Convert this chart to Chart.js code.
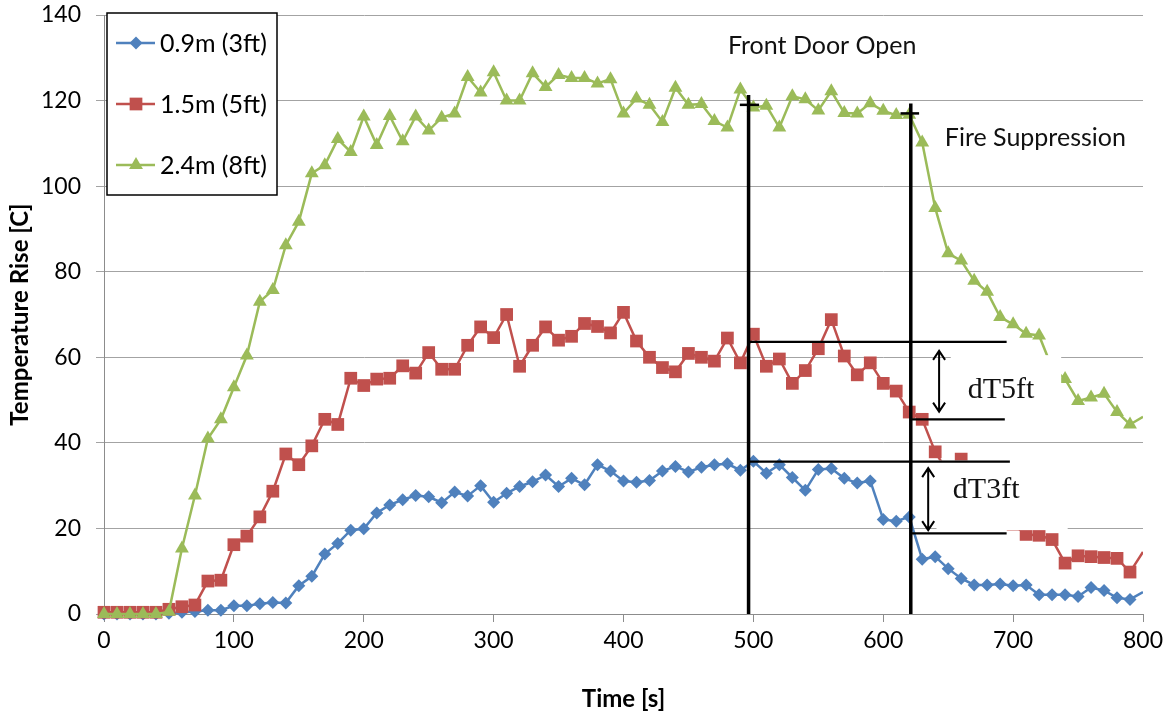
<!DOCTYPE html>
<html>
<head>
<meta charset="utf-8">
<script src="https://cdn.jsdelivr.net/npm/chart.js@4.4.0/dist/chart.umd.min.js"></script>
<style>
  html, body { margin: 0; padding: 0; background: #fff; }
</style>
</head>
<body>
<canvas id="tempChart" width="1166" height="715"></canvas>
<script>
// time stamps [s]
const timeSec = [0, 10, 20, 30, 40, 50, 60, 70, 80, 90, 100, 110, 120, 130, 140, 150, 160, 170, 180, 190,
  200, 210, 220, 230, 240, 250, 260, 270, 280, 290, 300, 310, 320, 330, 340, 350, 360, 370, 380, 390,
  400, 410, 420, 430, 440, 450, 460, 470, 480, 490, 500, 510, 520, 530, 540, 550, 560, 570, 580, 590,
  600, 610, 620, 630, 640, 650, 660, 670, 680, 690, 700, 710, 720, 730, 740, 750, 760, 770, 780, 790, 800];

// temperature rise [C] at each height
const rise3ft = [0, 0, 0, 0, 0, 0.2, 0.4, 0.6, 0.9, 0.9, 1.9, 1.9, 2.4, 2.7, 2.6, 6.6, 8.8, 14, 16.5, 19.6,
  19.9, 23.6, 25.5, 26.7, 27.7, 27.4, 26, 28.5, 27.6, 30, 26.1, 28.2, 29.8, 30.9, 32.5, 29.8, 31.7, 30.2, 34.9, 33.4,
  31.1, 30.8, 31.2, 33.4, 34.5, 33.2, 34.3, 34.9, 35.1, 33.6, 35.7, 32.9, 34.9, 31.9, 28.9, 33.8, 34, 31.7, 30.6, 31.1,
  22.1, 21.7, 22.7, 12.8, 13.4, 10.6, 8.3, 6.8, 6.8, 7, 6.6, 6.8, 4.5, 4.5, 4.5, 4.1, 6.2, 5.5, 3.8, 3.4, 5.1];

const rise5ft = [0.4, 0.4, 0.4, 0.4, 0.4, 1.1, 1.7, 2.1, 7.7, 7.9, 16.2, 18.2, 22.7, 28.7, 37.4, 34.9, 39.3, 45.5, 44.3, 55.1,
  53.4, 54.9, 55.1, 58, 56.3, 61.1, 57.2, 57.2, 62.8, 67.1, 64.6, 70, 57.9, 62.8, 67.1, 64, 64.9, 67.9, 67.2, 65.7,
  70.5, 63.8, 60, 57.6, 56.6, 60.9, 60, 59.1, 64.5, 58.7, 65.4, 57.9, 59.6, 53.9, 56.9, 62, 68.8, 60.3, 55.9, 58.7,
  53.9, 52.1, 47.2, 45.5, 37.9, 33, 36.2, 30, 26, 23, 21, 18.6, 18.4, 17.4, 11.9, 13.6, 13.4, 13.2, 13, 9.8, 14.5];

const rise8ft = [0, 0, 0, 0, 0, 0.5, 15.3, 27.7, 41, 45.5, 53, 60.4, 73, 75.7, 86.2, 91.7, 103, 104.9, 111, 108,
  116.3, 109.6, 116.4, 110.5, 116.3, 113, 116, 117, 125.5, 121.9, 126.6, 120, 120, 126.4, 123.2, 126, 125.3, 125.3, 124, 125,
  117, 120.5, 119, 115, 123, 119, 119.2, 115.2, 113.7, 122.6, 118.4, 118.8, 113.7, 121, 120.3, 117.7, 122.2, 117.1, 117, 119.4,
  117.6, 116.6, 116.7, 110.2, 94.9, 84.3, 82.6, 77.9, 75.3, 69.4, 67.7, 65.5, 65.1, 57.5, 54.9, 49.8, 50.6, 51.5, 47.2, 44.3, 46.1];

const seriesLabels = ["0.9m (3ft)", "1.5m (5ft)", "2.4m (8ft)"];
const xTickStep = 100;
const yTickStep = 20;

const FONT = "Lato";
const lastIdx = timeSec.length - 1;

function toPoints(values) {
  return timeSec.map((t, i) => ({ x: t, y: values[i] }));
}

function makeSeries(label, values, color, style, radius, order) {
  return {
    label: label,
    data: toPoints(values),
    borderColor: color,
    backgroundColor: color,
    pointBackgroundColor: color,
    pointBorderColor: color,
    pointBorderWidth: 0,
    borderWidth: 2.5,
    pointStyle: style,
    pointRadius: c => (c.dataIndex === lastIdx ? 0 : radius),
    pointHoverRadius: radius,
    legendRadius: radius,
    tension: 0,
    order: order,
    clip: { left: 20, top: 20, right: 0, bottom: 20 }
  };
}

// =====================
// Annotations (data space)
// =====================
const markLines = [
  { x1: 496.3, y1: 0, x2: 496.3, y2: 121.3, w: 3.5 },
  { x1: 489.6, y1: 119, x2: 504.4, y2: 119, w: 2.5 },
  { x1: 621.2, y1: 0, x2: 621.2, y2: 119.3, w: 3.5 },
  { x1: 613.3, y1: 117, x2: 627.6, y2: 117, w: 2.5 },
  { x1: 496.3, y1: 63.6, x2: 695, y2: 63.6, w: 2.2 },
  { x1: 621.2, y1: 45.5, x2: 693.6, y2: 45.5, w: 2.2 },
  { x1: 496.3, y1: 35.6, x2: 697.5, y2: 35.6, w: 2.2 },
  { x1: 621.2, y1: 18.85, x2: 695, y2: 18.85, w: 2.2 }
];
const whiteBoxes = [
  { x1: 652, x2: 737, y1: 47, y2: 60.5 },
  { x1: 641, x2: 742, y1: 19.6, y2: 35.9 }
];
const arrows = [
  { x: 643, y1: 61.5, y2: 47.3 },
  { x: 634.6, y1: 34.1, y2: 19.6 }
];
const notes = [
  { text: "Front Door Open", x: 480.4, y: 131, font: "25px " + FONT },
  { text: "Fire Suppression", x: 647.4, y: 109.3, font: "25px " + FONT },
  { text: "dT5ft", x: 665.1, y: 50.6, font: "30px 'Liberation Serif'" },
  { text: "dT3ft", x: 653.6, y: 27.0, font: "30px 'Liberation Serif'" }
];

const annotationPlugin = {
  id: "fireAnnotations",
  afterDatasetsDraw(chart) {
    const { ctx, scales: { x, y } } = chart;
    ctx.save();
    ctx.fillStyle = "#ffffff";
    whiteBoxes.forEach(b => {
      const l = x.getPixelForValue(b.x1), r = x.getPixelForValue(b.x2);
      const t = y.getPixelForValue(b.y2), bt = y.getPixelForValue(b.y1);
      ctx.fillRect(l, t, r - l, bt - t);
    });

    ctx.strokeStyle = "#000";
    markLines.forEach(m => {
      ctx.lineWidth = m.w;
      ctx.beginPath();
      ctx.moveTo(x.getPixelForValue(m.x1), y.getPixelForValue(m.y1));
      ctx.lineTo(x.getPixelForValue(m.x2), y.getPixelForValue(m.y2));
      ctx.stroke();
    });

    ctx.lineWidth = 2;
    arrows.forEach(a => {
      const px = x.getPixelForValue(a.x);
      const top = y.getPixelForValue(a.y1), bot = y.getPixelForValue(a.y2);
      ctx.beginPath();
      ctx.moveTo(px, top);
      ctx.lineTo(px, bot);
      ctx.moveTo(px - 6, top + 9);
      ctx.lineTo(px, top);
      ctx.lineTo(px + 6, top + 9);
      ctx.moveTo(px - 6, bot - 9);
      ctx.lineTo(px, bot);
      ctx.lineTo(px + 6, bot - 9);
      ctx.stroke();
    });

    ctx.fillStyle = "#111";
    ctx.textBaseline = "alphabetic";
    ctx.textAlign = "left";
    notes.forEach(n => {
      ctx.font = n.font;
      ctx.fillText(n.text, x.getPixelForValue(n.x), y.getPixelForValue(n.y));
    });
    ctx.restore();
  }
};

// =====================
// Legend box drawn inside the plot
// =====================
const legendPlugin = {
  id: "boxLegend",
  afterDraw(chart) {
    const ctx = chart.ctx;
    const left = 107, top = 13, w = 170, h = 182;
    ctx.save();
    ctx.fillStyle = "#fff";
    ctx.fillRect(left, top, w, h);
    ctx.strokeStyle = "#000";
    ctx.lineWidth = 1.5;
    ctx.strokeRect(left, top, w, h);

    chart.data.datasets.forEach((ds, i) => {
      const cy = top + 30 + i * 61;
      ctx.strokeStyle = ds.borderColor;
      ctx.lineWidth = 2.5;
      ctx.beginPath();
      ctx.moveTo(left + 9, cy);
      ctx.lineTo(left + 48, cy);
      ctx.stroke();
      ctx.fillStyle = ds.borderColor;
      Chart.helpers.drawPoint(ctx, {
        pointStyle: ds.pointStyle,
        radius: ds.legendRadius,
        rotation: 0,
        borderWidth: 0
      }, left + 29, cy);
      ctx.fillStyle = "#000";
      ctx.font = "25px " + FONT;
      ctx.textBaseline = "middle";
      ctx.fillText(ds.label, left + 53, cy + 1);
    });
    ctx.restore();
  }
};

const datasets = [
  makeSeries(seriesLabels[0], rise3ft, "#4F81BD", "rectRot", 6.5, 3),
  makeSeries(seriesLabels[1], rise5ft, "#C0504D", "rect", 9, 2),
  makeSeries(seriesLabels[2], rise8ft, "#9BBB59", "triangle", 8, 1)
];

new Chart(document.getElementById("tempChart"), {
  type: "line",
  data: { datasets: datasets },
  options: {
    responsive: false,
    animation: false,
    devicePixelRatio: 1,
    layout: { padding: { top: 15, right: 23, left: 0, bottom: 0 } },
    plugins: {
      legend: { display: false },
      tooltip: { enabled: false }
    },
    scales: {
      x: {
        type: "linear",
        min: 0,
        max: 800,
        ticks: {
          stepSize: xTickStep,
          color: "#000",
          font: { family: FONT, size: 23 },
          padding: 5,
          maxRotation: 0
        },
        grid: {
          drawOnChartArea: false,
          drawTicks: true,
          tickLength: 8,
          color: "#8c8c8c"
        },
        border: { color: "#8c8c8c", width: 1 },
        title: {
          display: true,
          text: "Time [s]",
          color: "#000",
          font: { family: FONT, size: 24, weight: "bold" },
          padding: { top: 0, bottom: 1 }
        },
        afterFit: s => { s.height = 101; s.paddingLeft = 0; s.paddingRight = 0; }
      },
      y: {
        min: 0,
        max: 140,
        ticks: {
          stepSize: yTickStep,
          color: "#000",
          font: { family: FONT, size: 23 },
          padding: 15
        },
        grid: {
          color: "#a3a3a3",
          tickLength: 8,
          lineWidth: 1
        },
        border: { color: "#8c8c8c", width: 1 },
        title: {
          display: true,
          text: "Temperature Rise [C]",
          color: "#000",
          font: { family: FONT, size: 24, weight: "bold" },
          padding: { top: 6, bottom: 0 }
        },
        afterFit: s => { s.width = 104; s.paddingTop = 0; s.paddingBottom = 0; }
      }
    }
  },
  plugins: [annotationPlugin, legendPlugin]
});
</script>
</body>
</html>
